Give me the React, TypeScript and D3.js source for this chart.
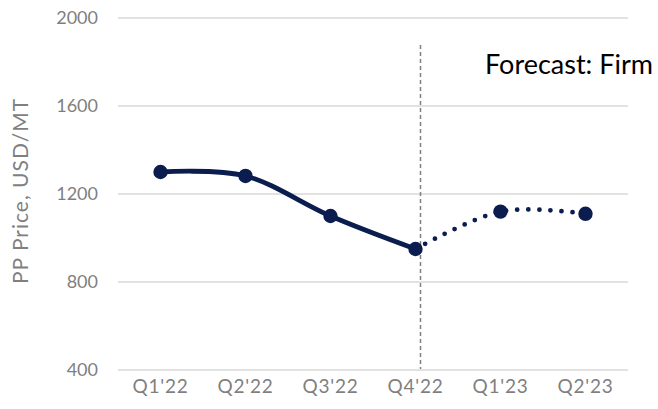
import React from "react";
import * as d3 from "d3";

const categories = ["Q1'22", "Q2'22", "Q3'22", "Q4'22", "Q1'23", "Q2'23"];
const actualValues = [1300, 1282, 1100, 950];
const forecastValues = [950, 1120, 1110];
const yTicks = [400, 800, 1200, 1600, 2000];
const forecastLabel = "Forecast: Firm";
const yAxisTitle = "PP Price, USD/MT";

const W = 658;
const H = 409;
const NAVY = "#0b1d4f";
const FONT = "Lato, 'Open Sans', sans-serif";

export default function App() {
  const x = d3.scaleBand<string>().domain(categories).range([118, 628]);
  const y = d3.scaleLinear().domain([400, 2000]).range([370, 18]);
  const cx = (c: string) => (x(c) as number) + x.bandwidth() / 2;

  const actual = actualValues.map((v, i) => ({ c: categories[i], v }));
  const forecast = forecastValues.map((v, i) => ({ c: categories[i + 3], v }));

  const line = d3
    .line<{ c: string; v: number }>()
    .x((d) => cx(d.c))
    .y((d) => y(d.v))
    .curve(d3.curveCardinal.tension(0));

  const dividerX = cx(categories[3]) + 5;

  return (
    <svg
      width={W}
      height={H}
      style={{ position: "absolute", left: 0, top: 0, background: "#fff" }}
    >
      {yTicks.map((t) => (
        <g key={t}>
          <line x1={118} x2={628} y1={y(t)} y2={y(t)} stroke="#d9d9d9" strokeWidth={1.5} />
          <text
            x={98}
            y={y(t)}
            dy="0.36em"
            textAnchor="end"
            fontFamily={FONT}
            fontSize={18}
            fill="#7f7f7f"
          >
            {t}
          </text>
        </g>
      ))}
      {categories.map((c) => (
        <text
          key={c}
          x={cx(c)}
          y={393}
          textAnchor="middle"
          fontFamily={FONT}
          fontSize={19}
          letterSpacing={0.8}
          fill="#7f7f7f"
        >
          {c}
        </text>
      ))}
      <text
        transform={`translate(28, 191) rotate(-90)`}
        textAnchor="middle"
        fontFamily={FONT}
        fontSize={21}
        letterSpacing={1}
        fill="#7f7f7f"
      >
        {yAxisTitle}
      </text>
      <line
        x1={dividerX}
        x2={dividerX}
        y1={45}
        y2={369}
        stroke="#7f7f7f"
        strokeWidth={1.5}
        strokeDasharray="4 3"
      />
      <path d={line(actual) || ""} fill="none" stroke={NAVY} strokeWidth={4.8} />
      <path
        d={line(forecast) || ""}
        fill="none"
        stroke={NAVY}
        strokeWidth={4.8}
        strokeLinecap="round"
        strokeDasharray="0 11"
      />
      {[...actual, ...forecast.slice(1)].map((d) => (
        <circle key={d.c} cx={cx(d.c)} cy={y(d.v)} r={7.2} fill={NAVY} />
      ))}
      <text x={485} y={74} fontFamily={FONT} fontSize={27} fill="#000">
        {forecastLabel}
      </text>
    </svg>
  );
}
